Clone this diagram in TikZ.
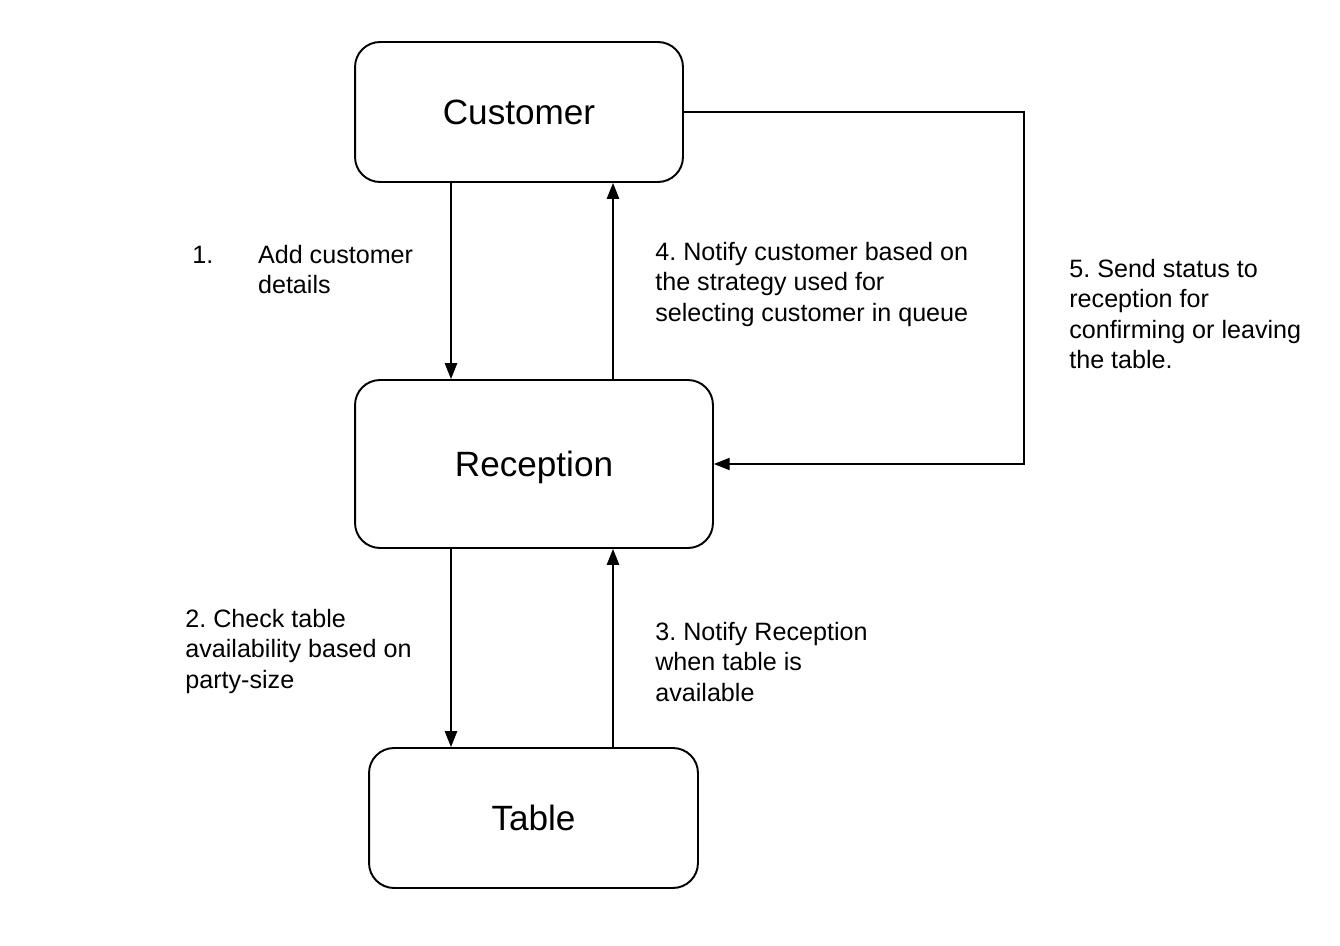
\documentclass[tikz,border=0pt]{standalone}
\usepackage{fontspec}
\setmainfont{Liberation Sans}
\usepackage{tikz}
\usetikzlibrary{positioning,arrows.meta}
\frenchspacing

\begin{document}
\begin{tikzpicture}[
	  x=0.02cm, y=-0.02cm,
	  block/.style={draw, line width=1.1pt, rounded corners=0.5cm, inner sep=0pt,
	    font=\fontsize{20}{24}\selectfont},
	  flow/.style={-{Triangle[length=9pt,width=7pt]}, line width=0.8pt},
	  note/.style={anchor=north west, inner sep=0pt, align=left,
	    font=\fontsize{14.3}{17.3}\selectfont},
	]
	\useasboundingbox (0,0) rectangle (1340,946);
	
	% Boxes
	\node[block, minimum width=6.56cm, minimum height=2.8cm] (cust) at (519,112) {Customer};
	\node[block, minimum width=7.16cm, minimum height=3.36cm] (rec) at (534,464) {\raisebox{-2.2pt}[\height][\depth]{Reception}};
	\node[block, minimum width=6.58cm, minimum height=2.8cm] (tab) at (533.5,818) {Table};
	
	% Columns of the vertical arrows
	\coordinate (down) at (451,0);
	\coordinate (up) at (613,0);
	\coordinate (turn) at (1024,0);
	
	% Arrows
	\draw[flow] (cust.south -| down) -- (rec.north -| down);
	\draw[flow] (rec.north -| up) -- (cust.south -| up);
	\draw[flow] (rec.south -| down) -- (tab.north -| down);
	\draw[flow] (tab.north -| up) -- (rec.south -| up);
	\draw[flow] (cust.east) -- (cust.east -| turn) |- (rec.east);
	
	% Labels
	\node[note] (n1) at (192,245) {\makebox[37.4pt][l]{1.}Add customer\\\hspace*{37.4pt}details};
	\node[note] (n4) at (655,242) {4. Notify customer based on\\the strategy used for\\selecting customer in queue};
	\node[note] (n5) at (1069,259) {5. Send status to\\reception for\\confirming or leaving\\the table.};
	\node[note] (n2) at (185,609) {2. Check table\\availability based on\\party-size};
	\node[note] (n3) at (655,622) {3. Notify Reception\\when table is\\available};
	
\end{tikzpicture}
\end{document}
